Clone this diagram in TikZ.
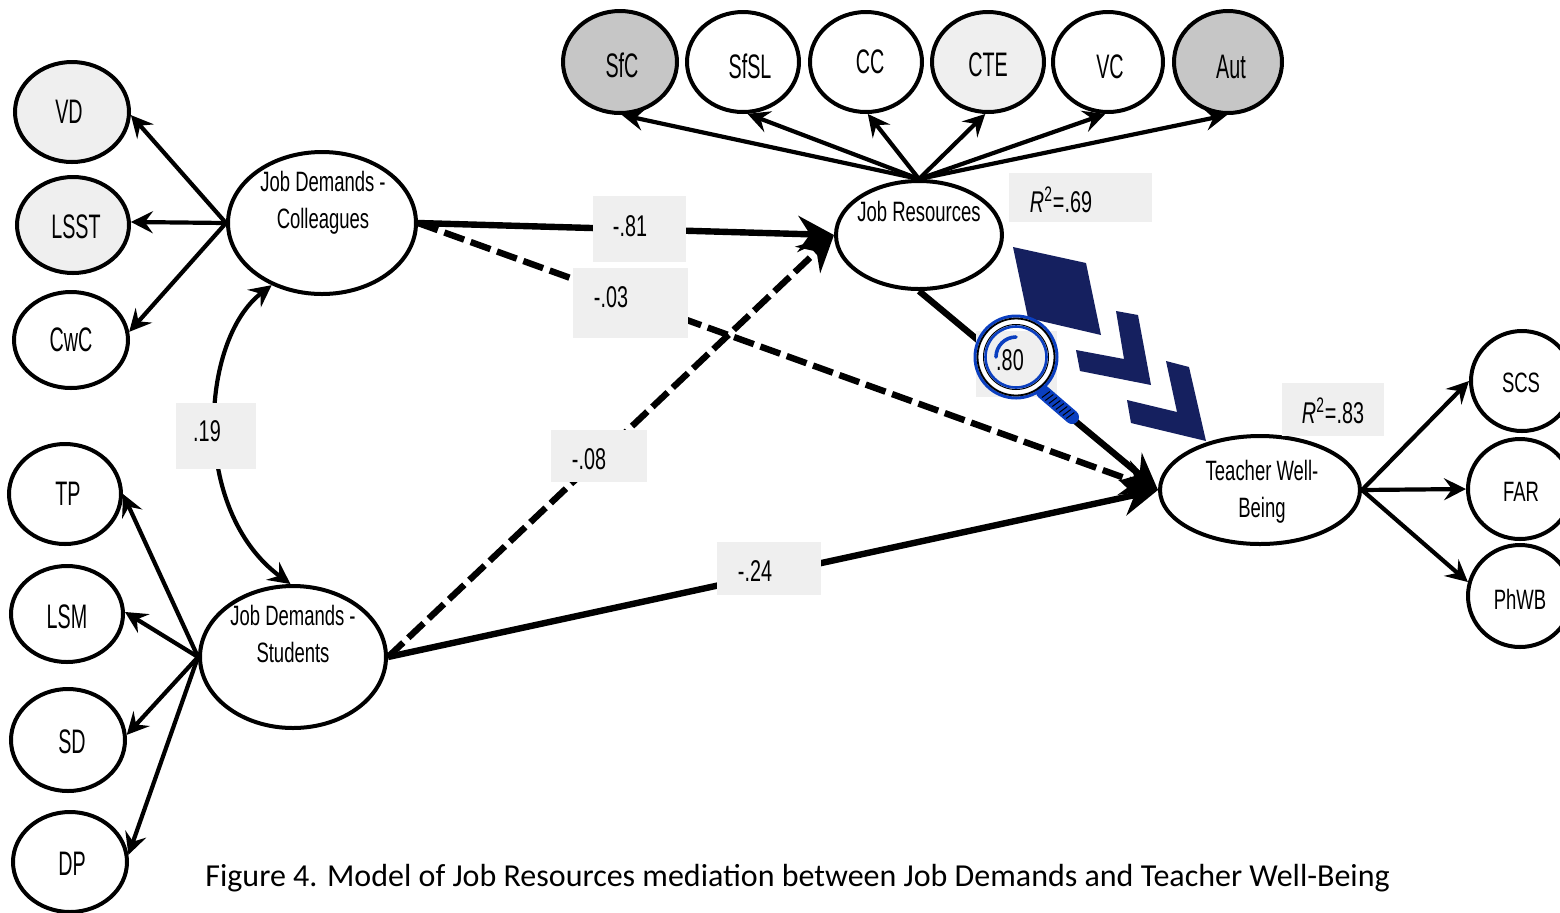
\documentclass[tikz,border=0pt]{standalone}
\usepackage{fontspec}
\setmainfont[FakeStretch=0.58]{Liberation Sans}
\newfontfamily\widefont[FakeStretch=0.66]{Liberation Sans}
\newfontfamily\capfont{Carlito}
\usetikzlibrary{arrows.meta,shapes.geometric,calc}
\definecolor{lab}{HTML}{EFEFEF}
\definecolor{grayfill}{HTML}{C6C6C6}
\definecolor{navy}{HTML}{15205F}
\definecolor{lensblue}{HTML}{0B3FC0}
\tikzset{
  ell/.style 2 args={ellipse,draw=black,line width=2pt,fill=white,inner sep=0pt,
    minimum width=(#1-2)*0.5pt,minimum height=(#2-2)*0.5pt},
  tx/.style n args={3}{label={[font=\fontsize{17}{20}\selectfont,inner sep=0pt,xshift=#1*0.5pt,yshift=-#2*0.5pt]center:#3}},
  tw/.style n args={3}{label={[font=\widefont\fontsize{14}{18.5}\selectfont,align=center,inner sep=0pt,xshift=#1*0.5pt,yshift=-#2*0.5pt]center:#3}},
  lf/.style={fill=lab},
  thin arrow/.style={draw=black,line width=2.1pt,-{Stealth[length=11pt,width=11pt,inset=4pt]}},
  thick arrow/.style={draw=black,line width=3.2pt,-{Stealth[length=18pt,width=18pt,inset=6pt]}},
  dash arrow/.style={thick arrow,dash pattern=on 10.5pt off 3.5pt},
  val/.style={font=\widefont\fontsize{15}{18}\selectfont,inner sep=0pt},
}
\begin{document}
\begin{tikzpicture}[x=0.5pt,y=-0.5pt]
\useasboundingbox (0,0) rectangle (1560,912);
\clip (0,0) rectangle (1560,912);
% indicator and latent nodes
\node[ell={116}{102},lf,tx={-3}{0}{VD}] (VD) at (72,112) {};
\node[ell={114}{98},lf,tx={3}{2}{LSST}] (LSST) at (73,225) {};
\node[ell={116}{98},tx={0}{0}{CwC}] (CwC) at (71,340) {};
\node[ell={114}{102},tx={3}{0}{TP}] (TP) at (65,494) {};
\node[ell={114}{98},tx={0}{3}{LSM}] (LSM) at (67,614) {};
\node[ell={116}{104},tx={4}{2}{SD}] (SD) at (68,740) {};
\node[ell={116}{102},tx={2}{2}{DP}] (DP) at (70,862) {};
\node[ell={190}{144},tw={1}{-20}{Job Demands -\\Colleagues}] (JDC) at (322,223) {};
\node[ell={188}{144},tw={0}{-23}{Job Demands -\\Students}] (JDS) at (293,657) {};
\node[ell={116}{104},fill=grayfill,tx={2}{3}{SfC}] (SfC) at (620,62) {};
\node[ell={114}{102},tx={7}{4}{SfSL}] (SfSL) at (743,62) {};
\node[ell={114}{102},tx={4}{0}{CC}] (CC) at (866,62) {};
\node[ell={114}{102},lf,tx={0}{3}{CTE}] (CTE) at (988,62) {};
\node[ell={112}{102},tx={2}{5}{VC}] (VC) at (1108,62) {};
\node[ell={110}{104},fill=grayfill,tx={3}{5}{Aut}] (Aut) at (1228,62) {};
\node[ell={168}{110},tw={0}{-24}{Job Resources}] (JR) at (919,235) {};
\node[ell={202}{110},tw={2}{2}{Teacher Well-\\Being}] (TWB) at (1260,490) {};
\node[ell={104}{102},tw={-1}{2}{SCS}] (SCS) at (1522,381) {};
\node[ell={106}{102},tw={1}{3}{FAR}] (FAR) at (1520,489) {};
\node[ell={106}{104},tw={0}{3}{PhWB}] (PhWB) at (1520,596) {};
% connectors
\draw[thin arrow] (JDC.west) -- (VD.-3);
\draw[thin arrow] (JDC.west) -- (LSST.3);
\draw[thin arrow] (JDC.west) -- (CwC.8);
\draw[thin arrow] (JDS.west) -- (TP.0);
\draw[thin arrow] (JDS.west) -- (LSM.2);
\draw[thin arrow] (JDS.west) -- (SD.5);
\draw[thin arrow] (JDS.west) -- (DP.7);
\draw[thin arrow] (JR.north) -- (SfC.-88);
\draw[thin arrow] (JR.north) -- (SfSL.-85);
\draw[thin arrow] (JR.north) -- (CC.-88);
\draw[thin arrow] (JR.north) -- (CTE.-93);
\draw[thin arrow] (JR.north) -- (VC.-93);
\draw[thin arrow] (JR.north) -- (Aut.-91);
\draw[thin arrow] (TWB.east) -- (SCS.west);
\draw[thin arrow] (TWB.east) -- (FAR.west);
\draw[thin arrow] (TWB.east) -- (PhWB.165);
\draw[thin arrow,{Stealth[length=11pt,width=11pt,inset=4pt]}-{Stealth[length=11pt,width=11pt,inset=4pt]}]
  (JDC.231) .. controls (200,340) and (190,510) .. (JDS.92);
\draw[thick arrow] (JDC.east) -- (JR.west);
\draw[dash arrow] (JDC.east) -- (TWB.west);
\draw[dash arrow] (JDS.east) -- (JR.west);
\draw[thick arrow] (JDS.east) -- (TWB.west);
\draw[thick arrow] (JR.south) -- (TWB.west);
% value boxes
\fill[lab] (593,196) rectangle (686,262);
\node[val] (v81) at (630,226) {-.81};
\fill[lab] (573,268) rectangle (688,338);
\node[val] (v03) at (611,297) {-.03};
\fill[lab] (176,403) rectangle (256,469);
\node[val] (v19) at (207,431) {.19};
\fill[lab] (551,430) rectangle (647,482);
\node[val] (v08) at (589,459) {-.08};
\fill[lab] (717,542) rectangle (821,595);
\node[val] (v24) at (755,571) {-.24};
\fill[lab] (1009,173) rectangle (1152,222);
\node[val] (r69) at (1061,200) {\textit{R}\textsuperscript{2}=.69};
\fill[lab] (976,331) rectangle (1057,397);
\fill[lab] (1282,383) rectangle (1384,436);
\node[val] (r83) at (1333,411) {\textit{R}\textsuperscript{2}=.83};
% navy mark
\fill[navy] (1013,247) -- (1086,263) -- (1101,335) -- (1028,318) -- cycle;
\fill[navy] (1116,311) -- (1138,315) -- (1151,385) -- (1080,371) -- (1076,350) -- (1124,359) -- cycle;
\fill[navy] (1166,361) -- (1189,367) -- (1206,441) -- (1131,423) -- (1127,400) -- (1177,412) -- cycle;
% magnifier
\draw[line cap=round,line width=7pt,lensblue] (1043,392) -- (1072,417);
\foreach \t in {0.1,0.22,...,0.95}
  \draw[black,line width=.5pt] ($(1043,392)!\t!(1072,417)+(-4,3)$) -- ($(1043,392)!\t!(1072,417)+(4,-3)$);
\draw[white,line width=2pt] (1016,357) circle (35);
\draw[lensblue,line width=1.5pt] (1016,357) circle (41);
\draw[black,line width=.9pt] (1016,357) circle (38.5);
\draw[black,line width=.5pt] (1016,357) circle (32.5);
\draw[lensblue,line width=1.3pt] (1016,357) circle (30.5);
\draw[lensblue,line width=1.8pt,line cap=round] (996,357) arc[start angle=180,end angle=270,radius=20];
\node[val] (v80) at (1010,360) {.80};
% caption
\node[anchor=west,inner sep=0pt,font=\capfont\fontsize{16}{19}\selectfont] (cap) at (205,878)
  {Figure 4. Model of Job Resources mediation between Job Demands and Teacher Well-Being};
\end{tikzpicture}
\end{document}
